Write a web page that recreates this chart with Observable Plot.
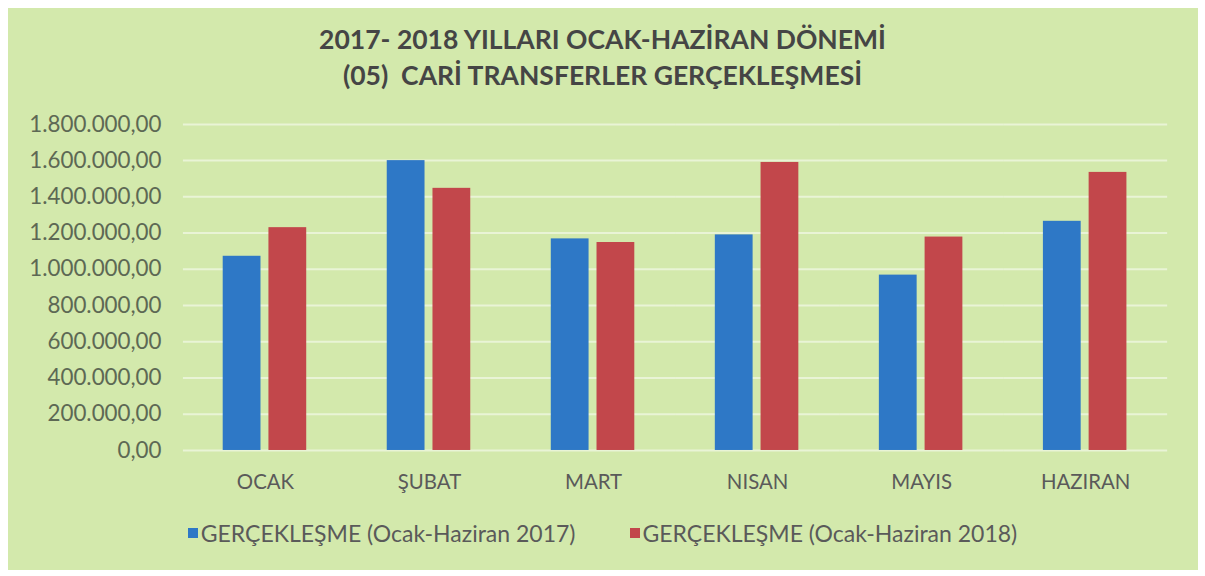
<!DOCTYPE html>
<html>
<head>
<meta charset="utf-8">
<script src="https://cdn.jsdelivr.net/npm/d3@7"></script>
<script src="https://cdn.jsdelivr.net/npm/@observablehq/plot@0.6"></script>
<style>
  html, body { margin: 0; padding: 0; background: #ffffff; }
  #frame {
    position: absolute; left: 8px; top: 8px; width: 1190px; height: 562px;
    background: #d3e9ac; overflow: hidden;
  }
  #title {
    position: absolute; left: -8px; top: 13px; width: 1205px; text-align: center;
    font-family: Lato, "Open Sans", sans-serif; font-weight: 700; font-size: 26.5px;
    line-height: 36px; color: #454545;
  }
  #chart { position: absolute; left: -8px; top: 97px; }
  #legend {
    position: absolute; left: -8px; top: 511px; width: 1205px;
    display: flex; justify-content: center; gap: 54px;
    font-family: Lato, "Open Sans", sans-serif; font-size: 23px; color: #5a5a5a;
  }
  #legend .item { display: flex; align-items: center; }
  #legend .sw { width: 10px; height: 10px; margin-right: 3px; }
  svg g[aria-label="y-axis tick label"] text { font-size: 22.5px; fill: #5d6854; }
  svg g[aria-label="fx-axis tick label"] text { font-size: 20.5px; fill: #5a5a5a; }
</style>
</head>
<body>
<div id="frame">
  <div id="title">2017- 2018 YILLARI OCAK-HAZİRAN DÖNEMİ<br>(05)&nbsp; CARİ TRANSFERLER GERÇEKLEŞMESİ</div>
  <div id="chart"></div>
  <div id="legend"></div>
</div>
<script>
const months = ["OCAK", "ŞUBAT", "MART", "NISAN", "MAYIS", "HAZIRAN"];
const seriesNames = ["GERÇEKLEŞME (Ocak-Haziran 2017)", "GERÇEKLEŞME (Ocak-Haziran 2018)"];
const values2017 = [1072000, 1600000, 1168000, 1190000, 968000, 1265000];
const values2018 = [1230000, 1447000, 1148000, 1590000, 1178000, 1535000];
const yTicks = [0, 200000, 400000, 600000, 800000, 1000000, 1200000, 1400000, 1600000, 1800000];
const colors = ["#2e78c6", "#c2474b"];

const data = months.flatMap((m, i) => [
  {month: m, series: seriesNames[0], value: values2017[i]},
  {month: m, series: seriesNames[1], value: values2018[i]}
]);

const trLocale = d3.formatLocale({decimal: ",", thousands: ".", grouping: [3], currency: ["", ""]});
const fmt = trLocale.format(",.2f");

const chart = Plot.plot({
  width: 1205,
  height: 400,
  marginLeft: 182,
  marginRight: 29,
  marginTop: 19,
  marginBottom: 53,
  style: {background: "transparent", fontFamily: "Lato, 'Open Sans', sans-serif", fontSize: "18px", color: "#5a5a5a"},
  fx: {domain: months, padding: 0, label: null, axis: "bottom", tickSize: 0, tickPadding: 24},
  x: {domain: seriesNames, axis: null, paddingInner: 0.17, paddingOuter: 0.85},
  y: {domain: [0, 1800000], ticks: yTicks, tickFormat: fmt, tickSize: 0, tickPadding: 22, label: null},
  color: {domain: seriesNames, range: colors},
  marks: [
    Plot.ruleY(yTicks, {stroke: "#e9f4d6", strokeWidth: 2}),
    Plot.barY(data, {fx: "month", x: "series", y: "value", fill: "series"})
  ]
});
document.getElementById("chart").appendChild(chart);

const legend = document.getElementById("legend");
seriesNames.forEach((name, i) => {
  const item = document.createElement("div");
  item.className = "item";
  const sw = document.createElement("span");
  sw.className = "sw";
  sw.style.background = colors[i];
  const label = document.createElement("span");
  label.textContent = name;
  item.appendChild(sw);
  item.appendChild(label);
  legend.appendChild(item);
});
</script>
</body>
</html>
